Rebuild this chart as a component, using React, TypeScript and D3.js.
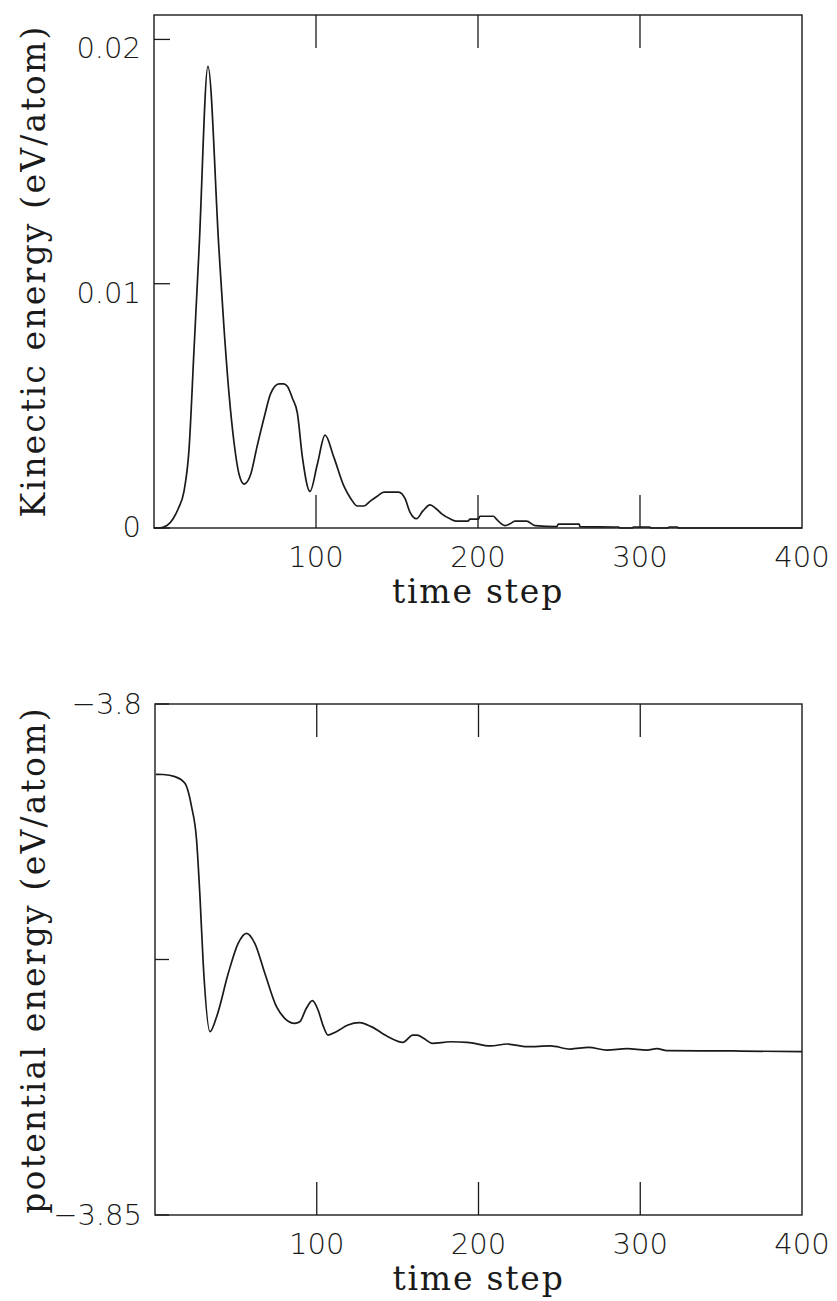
import React from "react";
import * as d3 from "d3";

// ---------- data ----------
const keSteps = [0, 3, 8, 12, 15, 18.5, 21.6, 24.7, 27.8, 33.3, 40.1, 43.2, 46.3, 49.4, 52.5, 55.6, 59.7, 63.5, 67.9, 72, 77.2, 80, 82.3, 85.5, 88.5, 91.6, 96.3, 100.8, 105.6, 111, 117.3, 121.5, 125.5, 129.6, 133.5, 137.8, 142, 151, 155, 158, 162, 166, 170.4, 174, 177.6, 182.7, 186.8, 193.8, 195, 200.2, 201.2, 209.5, 211.5, 216.7, 219.8, 222.8, 230, 235.2, 248.6, 249.6, 262.5, 262.9, 286.6, 288, 295, 296, 306, 307, 317, 318, 323, 324, 400];
const keValues = [0, 0, 0.0001, 0.0004, 0.0008, 0.0015, 0.0032, 0.0073, 0.0114, 0.0189, 0.0114, 0.0082, 0.0055, 0.0035, 0.0022, 0.0018, 0.0022, 0.0033, 0.0045, 0.0055, 0.0059, 0.0059, 0.0058, 0.0053, 0.0047, 0.0029, 0.0015, 0.0026, 0.0038, 0.0029, 0.0017, 0.0012, 0.0009, 0.0009, 0.0011, 0.0013, 0.00147, 0.00147, 0.0012, 0.00065, 0.00038, 0.0007, 0.00095, 0.0008, 0.00058, 0.00038, 0.00028, 0.00028, 0.00036, 0.00036, 0.00048, 0.00048, 0.00035, 0.0001, 0.00017, 0.00028, 0.00028, 0.0001, 0.00006, 0.00016, 0.00016, 0.00006, 0.00004, 0, 0, 0.00004, 0.00004, 0, 0, 0.00004, 0.00004, 0, 0];

const peSteps = [0.6, 5, 12.3, 18.5, 22.6, 25.7, 27.8, 29.8, 34, 38.1, 45.3, 51.4, 56.6, 61.7, 67.9, 75.1, 80.2, 86.4, 89.5, 93.5, 97.3, 100.8, 104, 107, 112.1, 119.3, 126.5, 133.7, 144, 153.3, 159.4, 162.1, 166, 171.4, 182.7, 193, 207.4, 217.7, 230, 244.4, 256.8, 268.1, 279.4, 291.8, 304.1, 310.3, 316.5, 357.6, 400];
const peValues = [-3.80688, -3.8069, -3.80711, -3.80776, -3.81005, -3.81331, -3.81885, -3.82537, -3.83206, -3.8306, -3.82635, -3.82342, -3.82244, -3.82342, -3.82635, -3.82962, -3.83076, -3.83125, -3.83109, -3.8298, -3.82903, -3.82994, -3.8315, -3.83239, -3.83206, -3.83141, -3.83118, -3.83157, -3.83255, -3.8331, -3.83239, -3.83239, -3.8327, -3.8332, -3.83305, -3.8331, -3.83346, -3.83327, -3.83353, -3.83346, -3.83376, -3.8336, -3.83386, -3.83373, -3.83386, -3.83373, -3.83392, -3.83395, -3.83402];

const xTickValues = [100, 200, 300, 400];
const xTickLabels = ["100", "200", "300", "400"];
const keTickValues = [0, 0.01, 0.02];
const keTickLabels = ["0", "0.01", "0.02"];
const peTickValues = [-3.85, -3.825, -3.8];
const peTickLabels = ["\u22123.85", "", "\u22123.8"];

const xTitle = "time step";
const keTitle = "Kinectic energy (eV/atom)";
const peTitle = "potential energy (eV/atom)";

// ---------- layout ----------
const W = 837;
const H = 1301;
const INK = "#1a1a1a";
const tickFont = "'DejaVu Sans', sans-serif";
const titleFont = "'DejaVu Serif', serif";

type PanelProps = {
  top: number;
  bottom: number;
  left: number;
  right: number;
  xs: number[];
  ys: number[];
  yDomain: [number, number];
  yTicks: number[];
  yLabels: string[];
  yTitle: string;
  yTitleCenter: number;
  yTickLen: number;
  labelDy: (v: number, i: number) => number;
};

function Panel(p: PanelProps) {
  const x = d3.scaleLinear().domain([0, 400]).range([p.left, p.right]);
  const y = d3.scaleLinear().domain(p.yDomain).range([p.bottom, p.top]);
  const pts = p.xs.map((t, i) => [t, p.ys[i]] as [number, number]);
  const line = d3
    .line<[number, number]>()
    .x((d) => x(d[0]))
    .y((d) => y(d[1]))
    .curve(d3.curveMonotoneX);
  const xTickLen = 33;
  return (
    <g>
      <rect
        x={p.left}
        y={p.top}
        width={p.right - p.left}
        height={p.bottom - p.top}
        fill="none"
        stroke={INK}
        strokeWidth={1.4}
      />
      {xTickValues
        .filter((v) => v < 400)
        .map((v) => (
          <g key={"xt" + v}>
            <line x1={x(v)} x2={x(v)} y1={p.top} y2={p.top + xTickLen} stroke={INK} strokeWidth={1.3} />
            <line x1={x(v)} x2={x(v)} y1={p.bottom} y2={p.bottom - xTickLen} stroke={INK} strokeWidth={1.3} />
          </g>
        ))}
      {p.yTicks.map((v) => (
        <line key={"yt" + v} x1={p.left} x2={p.left + p.yTickLen} y1={y(v)} y2={y(v)} stroke={INK} strokeWidth={1.3} />
      ))}
      <path d={line(pts) || ""} fill="none" stroke={INK} strokeWidth={1.7} strokeLinejoin="round" />
      {xTickValues.map((v, i) => (
        <text
          key={"xl" + v}
          x={x(v)}
          y={p.bottom + 39}
          textAnchor="middle"
          fontFamily={tickFont}
          fontWeight={200}
          fontSize={29}
          fill={INK}
        >
          {xTickLabels[i]}
        </text>
      ))}
      {p.yTicks.map((v, i) =>
        p.yLabels[i] ? (
          <text
            key={"yl" + v}
            x={p.left - 13}
            y={y(v) + p.labelDy(v, i)}
            textAnchor="end"
            fontFamily={tickFont}
            fontWeight={200}
            fontSize={29}
            fill={INK}
          >
            {p.yLabels[i]}
          </text>
        ) : null
      )}
      <text
        x={x(200)}
        y={p.bottom + 75}
        textAnchor="middle"
        fontFamily={titleFont}
        fontSize={33}
        letterSpacing={1.8}
        fill={INK}
      >
        {xTitle}
      </text>
      <text
        transform={`translate(45, ${p.yTitleCenter}) rotate(-90)`}
        textAnchor="middle"
        fontFamily={titleFont}
        fontSize={33}
        letterSpacing={2.2}
        fill={INK}
      >
        {p.yTitle}
      </text>
    </g>
  );
}

export default function App() {
  return (
    <svg
      width={W}
      height={H}
      viewBox={`0 0 ${W} ${H}`}
      style={{ position: "absolute", left: 0, top: 0, background: "#fff" }}
    >
      <rect x={0} y={0} width={W} height={H} fill="#fff" />
      <Panel
        top={15}
        bottom={528}
        left={154}
        right={802}
        xs={keSteps}
        ys={keValues}
        yDomain={[0, 0.021]}
        yTicks={keTickValues}
        yLabels={keTickLabels}
        yTitle={keTitle}
        yTitleCenter={271}
        yTickLen={16}
        labelDy={(v) => (v === 0 ? 9 : 19)}
      />
      <Panel
        top={704}
        bottom={1215}
        left={155}
        right={802}
        xs={peSteps}
        ys={peValues}
        yDomain={[-3.85, -3.8]}
        yTicks={peTickValues}
        yLabels={peTickLabels}
        yTitle={peTitle}
        yTitleCenter={960}
        yTickLen={14}
        labelDy={() => 10}
      />
    </svg>
  );
}
